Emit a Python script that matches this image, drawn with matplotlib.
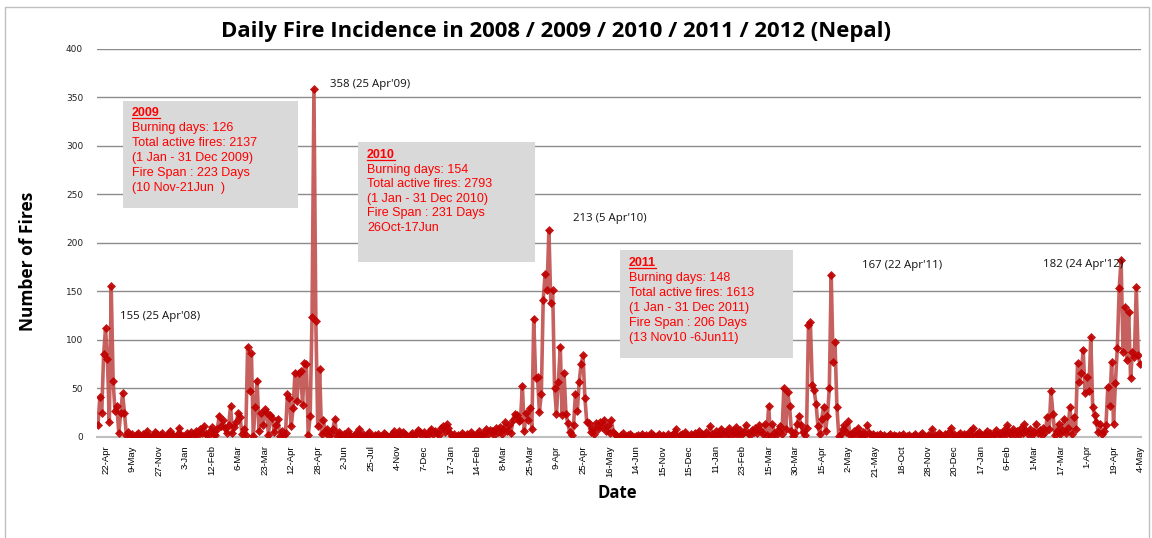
"""Daily fire incidence in Nepal 2008-2012, line chart with diamond markers and info boxes."""
import matplotlib
matplotlib.use('Agg')
import matplotlib.pyplot as plt
from matplotlib.patches import Rectangle
from matplotlib.lines import Line2D

# daily fire counts (only the days in the record)
fires_2008 = [12, 41, 25, 85, 112, 80, 15, 155, 58, 27, 32, 4, 25, 45, 25, 2]
fires_2008_off = [5, 1, 3, 0, 2, 4, 1, 0, 3, 2,
                  6, 1, 0, 2, 5, 3, 1, 2, 4, 0,
                  1, 3, 6, 2, 1, 0, 3, 9, 2, 1,
                  0, 4, 2, 5, 1, 3, 6, 2, 8, 4,
                  11, 3, 1, 6, 10, 3, 2]
fires_2009_spring = [8, 22, 11, 17, 9, 4, 12, 32, 4, 10,
                     15, 25, 21, 3, 8, 2, 93, 47, 86, 1,
                     31, 58, 6, 25, 12, 29, 25, 2, 23, 20,
                     5, 12, 19, 1, 6, 2, 4, 44, 40, 11,
                     30, 66, 37, 66, 68, 33, 76]
fires_2009_peak = [75, 2, 22, 124, 358, 119, 11, 70, 3, 17, 5, 8, 1, 4, 8, 19, 1, 5]
fires_2009_off = [2, 0, 3, 1, 6, 2, 0, 1, 4, 2,
                  8, 1, 3, 0, 2, 5, 1, 0, 2, 1,
                  3, 0, 1, 4, 2, 0, 1, 3, 6, 2,
                  0, 6, 2, 5, 3, 1, 0, 2, 4, 1,
                  3, 7, 5, 1, 5, 3, 2, 6]
fires_2010_winter = [8, 3, 6, 4, 2, 9, 11, 5, 13, 9,
                     4, 1, 3, 0, 2, 1, 4, 2, 0, 3,
                     1, 5, 2, 0, 3, 6, 2, 1, 4, 8,
                     3, 7, 6, 2, 9, 5, 10, 3, 8, 15, 6, 12, 4, 18, 24]
fires_2010_peak = [23, 16, 17, 53, 6, 25, 17, 30, 8, 122,
                   61, 62, 26, 44, 141, 168, 151, 213, 138, 151,
                   50, 24, 57, 93, 23, 66, 24, 14, 5, 2,
                   12, 44, 27, 57, 75, 84, 40, 15, 14, 5,
                   9, 3, 14, 8, 15, 10, 18, 6, 12, 4,
                   17, 5]
fires_2010_off = [3, 1, 0, 2, 4, 1, 0, 2, 3, 1,
                  0, 1, 2, 0, 3, 1, 2, 0, 1, 4,
                  2, 0, 1, 3, 0, 2, 1, 0, 3, 1,
                  2, 4, 8, 0, 2, 3, 1, 5, 2, 0,
                  3, 1, 4, 2, 6, 1, 3, 2, 5, 1,
                  11, 3, 2, 6, 1, 4, 8, 2, 5, 3,
                  9, 1, 6, 4, 10, 2, 7, 3, 5, 12,
                  4, 2, 7]
fires_2011 = [5, 9, 4, 12, 6, 3, 13, 2, 32, 1,
              13, 4, 2, 7, 11, 3, 50, 8, 46, 32,
              6, 1, 4, 13, 22, 12, 5, 2, 9, 115,
              118, 54, 48, 34, 11, 3, 19, 31, 6, 22,
              50, 167, 77, 98, 31, 1, 3, 8, 12, 5,
              16, 2, 3, 6, 2, 9, 3, 1, 5, 2,
              12, 4, 2, 3, 1]
fires_2011_off = [2, 0, 3, 1, 2, 0, 1, 3, 0, 2,
                  1, 0, 2, 1, 3, 0, 1, 2, 0, 1,
                  3, 1, 0, 2, 4, 1, 0, 2, 1, 8,
                  0, 2, 1, 4, 2, 0, 3, 1, 5, 9,
                  1, 3, 0, 2, 4, 1, 3, 2, 0, 6,
                  2, 9, 1, 3, 5, 2, 0, 3, 6, 2,
                  4, 1, 3, 7, 2]
fires_2012 = [4, 2, 7, 3, 12, 5, 2, 8, 3, 6,
              2, 9, 4, 13, 6, 3, 8, 2, 5, 13,
              4, 7, 2, 9, 5, 21, 8, 47, 24, 2,
              6, 13, 3, 7, 19, 4, 9, 31, 3, 21,
              8, 76, 57, 66, 90, 45, 62, 47, 103, 31,
              23, 15, 5, 13, 3, 6, 12, 52, 32, 77,
              13, 56, 92, 153, 182, 88, 134, 79, 129, 61,
              88, 82, 154, 84, 75]

fires = (fires_2008 + fires_2008_off + fires_2009_spring + fires_2009_peak + fires_2009_off
         + fires_2010_winter + fires_2010_peak + fires_2010_off + fires_2011 + fires_2011_off
         + fires_2012)

date_labels = ['22-Apr', '9-May', '27-Nov', '3-Jan', '12-Feb', '6-Mar', '23-Mar', '12-Apr',
               '28-Apr', '2-Jun', '25-Jul', '4-Nov', '7-Dec', '17-Jan', '14-Feb', '8-Mar',
               '25-Mar', '9-Apr', '25-Apr', '16-May', '14-Jun', '15-Nov', '15-Dec', '11-Jan',
               '23-Feb', '15-Mar', '30-Mar', '15-Apr', '2-May', '21-May', '18-Oct', '28-Nov',
               '20-Dec', '17-Jan', '6-Feb', '1-Mar', '17-Mar', '1-Apr', '19-Apr', '4-May']
label_every = 14
label_offset = 4

peak_labels = ["155 (25 Apr'08)", "358 (25 Apr'09)", "213 (5 Apr'10)",
               "167 (22 Apr'11)", "182 (24 Apr'12)"]
peak_pos = [(120, 317), (330, 84), (573, 219), (862, 266), (1043, 264)]  # pixels

boxes = {
    '2009': ['Burning days: 126', 'Total active fires: 2137', '(1 Jan - 31 Dec 2009)',
             'Fire Span : 223 Days', '(10 Nov-21Jun  )'],
    '2010': ['Burning days: 154', 'Total active fires: 2793', '(1 Jan - 31 Dec 2010)',
             'Fire Span : 231 Days', '26Oct-17Jun'],
    '2011': ['Burning days: 148', 'Total active fires: 1613', '(1 Jan - 31 Dec 2011)',
             'Fire Span : 206 Days', '(13 Nov10 -6Jun11)'],
}
# box geometry in pixels: left, top, right, bottom, text x, first line y, line step
box_geom = {
    '2009': (123, 101, 298, 208, 132, 113, 15.0),
    '2010': (358, 142, 535, 262, 367, 155, 14.6),
    '2011': (620, 250, 793, 358, 629, 263, 15.0),
}

W, H = 1152, 538
fig = plt.figure(figsize=(W/100, H/100), dpi=100)

def fx(px):
    return px/W

def fy(py):
    return 1 - py/H

ax = fig.add_axes([fx(97), fy(437), fx(1141)-fx(97), fy(48.6)-fy(437)])
x = list(range(len(fires)))
ax.plot(x, fires, color='#C0504D', lw=2.6, alpha=0.9, zorder=3,
        marker='D', ms=4.2, mfc='#C00000', mec='#C00000', mew=0.5)

ax.set_xlim(-0.5, len(fires)-0.5)
ax.set_ylim(0, 400)
ax.set_yticks(range(0, 401, 50))
ax.yaxis.grid(True, color='#8C8C8C', lw=1.0)
ax.set_axisbelow(True)
for s in ['top', 'right', 'left']:
    ax.spines[s].set_visible(False)
ax.spines['bottom'].set_color('#BFBFBF')
ax.spines['bottom'].set_linewidth(1.5)
ax.tick_params(axis='y', length=0, labelsize=6.5, pad=10, labelcolor='#222222')
ticks = [label_offset + i*label_every for i in range(len(date_labels))]
ax.set_xticks(ticks)
ax.set_xticklabels(date_labels, rotation=90, fontsize=6.8, family='Liberation Sans')
ax.tick_params(axis='x', length=0, pad=6)

# axis titles and chart title
fig.text(fx(28), fy(261), 'Number of Fires', rotation=90, ha='center', va='center',
         fontsize=12.5, fontweight='bold', family='Open Sans')
fig.text(fx(617), fy(493), 'Date', ha='center', va='center', fontsize=12,
         fontweight='bold', family='Open Sans')
fig.text(fx(556), fy(31), 'Daily Fire Incidence in 2008 / 2009 / 2010 / 2011 / 2012 (Nepal)',
         ha='center', va='center', fontsize=15.9, fontweight='bold', family='Open Sans')

# peak labels
for txt, (px, py) in zip(peak_labels, peak_pos):
    fig.text(fx(px), fy(py), txt, ha='left', va='center', fontsize=8.2, family='Open Sans',
             color='#111111')

# info boxes
titles = []
for year, lines in boxes.items():
    l, t, r, b, tx, ty, step = box_geom[year]
    fig.patches.append(Rectangle((fx(l), fy(b)), fx(r)-fx(l), fy(t)-fy(b),
                                 transform=fig.transFigure, facecolor='#D9D9D9',
                                 edgecolor='none', zorder=5))
    tt = fig.text(fx(tx), fy(ty), year, ha='left', va='center', fontsize=9,
                  fontweight='bold', color='#FF0000', family='Liberation Sans', zorder=6)
    titles.append(tt)
    for i, line in enumerate(lines):
        fig.text(fx(tx), fy(ty + step*(i+1)), line, ha='left', va='center', fontsize=9,
                 color='#FF0000', family='Liberation Sans', zorder=6)

# chart border
fig.patches.append(Rectangle((fx(5), fy(560)), fx(1149)-fx(5), fy(7)-fy(560),
                             transform=fig.transFigure, facecolor='none',
                             edgecolor='#BFBFBF', lw=1.0, zorder=0))

# underline the year headings
fig.canvas.draw()
for tt in titles:
    bb = tt.get_window_extent()
    fig.add_artist(Line2D([bb.x0/W, bb.x1/W], [(bb.y0+1)/H, (bb.y0+1)/H],
                          transform=fig.transFigure, color='#FF0000', lw=0.9, zorder=6))

fig.savefig('out.png', dpi=100)
